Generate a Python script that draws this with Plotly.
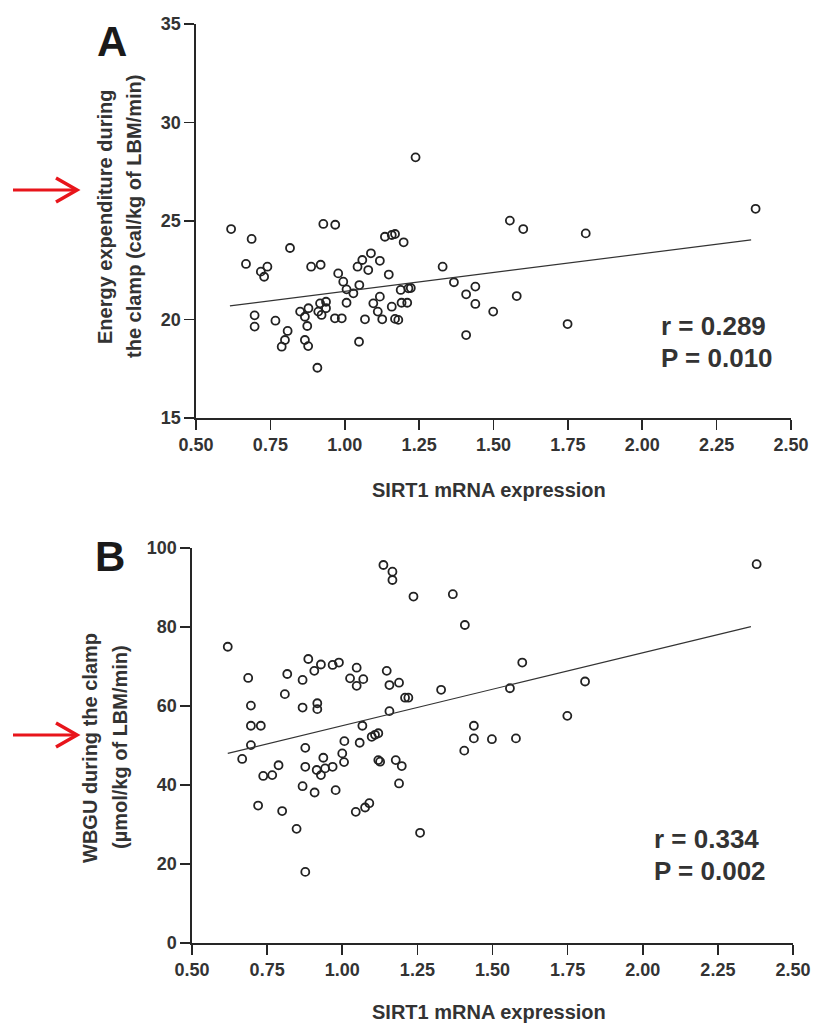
import plotly.graph_objects as go

# ---------------- Data ----------------
# Panel A: SIRT1 mRNA expression vs energy expenditure during the clamp
a_x = [0.618, 0.687, 0.668, 0.816, 0.928, 0.968, 0.718, 0.740, 0.729, 0.887,
       0.919, 0.697, 0.697, 0.767, 0.808, 0.799, 0.788, 0.866, 0.877, 0.908,
       0.850, 0.866, 0.878, 0.874, 0.911, 0.922, 0.917, 0.937, 0.937, 0.967,
       0.990, 0.978, 0.995, 1.006, 1.029, 1.049, 1.006, 1.068, 1.048, 1.043,
       1.059, 1.079, 1.088, 1.118, 1.096, 1.118, 1.111, 1.126, 1.148, 1.135,
       1.158, 1.169, 1.198, 1.158, 1.169, 1.180, 1.188, 1.191, 1.210, 1.214,
       1.222, 1.238, 1.329, 1.367, 1.408, 1.439, 1.439, 1.408, 1.499, 1.555,
       1.600, 1.578, 1.749, 1.810, 2.381]
a_y = [24.59, 24.09, 22.82, 23.63, 24.85, 24.81, 22.43, 22.68, 22.17, 22.68,
       22.78, 20.21, 19.64, 19.94, 19.42, 18.96, 18.62, 18.96, 18.65, 17.55,
       20.40, 20.14, 20.57, 19.67, 20.40, 20.23, 20.82, 20.90, 20.57, 20.06,
       20.06, 22.34, 21.92, 21.53, 21.33, 21.75, 20.85, 20.01, 18.87, 22.68,
       23.02, 22.51, 23.36, 22.98, 20.82, 21.16, 20.40, 20.01, 22.28, 24.20,
       24.29, 24.34, 23.92, 20.65, 20.03, 19.98, 21.50, 20.85, 20.85, 21.58,
       21.60, 28.23, 22.68, 21.89, 21.28, 21.67, 20.79, 19.21, 20.40, 25.02,
       24.59, 21.19, 19.77, 24.37, 25.62]
a_fit_x = [0.614, 2.366]
a_fit_y = [20.69, 24.04]
a_stats = ["r = 0.289", "P = 0.010"]

# Panel B: SIRT1 mRNA expression vs WBGU during the clamp
b_x = [0.619, 0.687, 0.696, 0.696, 0.729, 0.696, 0.667, 0.737, 0.767, 0.788,
       0.720, 0.800, 0.848, 0.877, 0.817, 0.809, 0.868, 0.887, 0.907, 0.929,
       0.968, 0.989, 0.868, 0.917, 0.917, 0.877, 0.877, 0.868, 0.908, 0.937,
       0.915, 0.929, 0.943, 0.968, 0.978, 1.000, 1.006, 1.007, 1.048, 1.026,
       1.048, 1.070, 1.058, 1.067, 1.045, 1.076, 1.090, 1.098, 1.109, 1.120,
       1.120, 1.126, 1.137, 1.167, 1.167, 1.148, 1.157, 1.189, 1.157, 1.178,
       1.198, 1.189, 1.209, 1.220, 1.237, 1.368, 1.408, 1.599, 1.808, 1.329,
       1.558, 1.749, 1.438, 1.438, 1.498, 1.578, 1.406, 1.259, 2.379]
b_y = [75.0, 67.1, 60.1, 55.0, 55.0, 50.1, 46.6, 42.3, 42.5, 45.0,
       34.8, 33.4, 28.9, 18.0, 68.1, 63.0, 66.6, 71.9, 68.9, 70.5,
       70.4, 71.0, 59.6, 60.7, 59.2, 49.4, 44.6, 39.7, 38.1, 46.9,
       43.8, 42.5, 44.2, 44.6, 38.7, 48.0, 45.8, 51.1, 69.7, 67.0,
       65.1, 66.8, 50.7, 55.0, 33.2, 34.3, 35.4, 52.2, 52.7, 53.1,
       46.3, 45.9, 95.7, 94.0, 91.9, 68.9, 65.3, 65.9, 58.7, 46.3,
       44.8, 40.4, 62.1, 62.1, 87.7, 88.3, 80.5, 71.0, 66.2, 64.1,
       64.5, 57.5, 55.0, 51.8, 51.6, 51.8, 48.7, 27.9, 95.9]
b_fit_x = [0.619, 2.360]
b_fit_y = [48.0, 80.1]
b_stats = ["r = 0.334", "P = 0.002"]

x_ticks = [0.50, 0.75, 1.00, 1.25, 1.50, 1.75, 2.00, 2.25, 2.50]
x_ticktext = ["0.50", "0.75", "1.00", "1.25", "1.50", "1.75", "2.00", "2.25", "2.50"]
a_yticks = [15, 20, 25, 30, 35]
b_yticks = [0, 20, 40, 60, 80, 100]

x_title = "SIRT1 mRNA expression"
a_ytitle = ["Energy expenditure during", "the clamp (cal/kg of LBM/min)"]
b_ytitle = ["WBGU during the clamp", "(µmol/kg of LBM/min)"]

# ---------------- Layout helpers ----------------
# Body margin is removed (post_script), so design coordinates are screen pixels.
W, H = 814, 1027
OFF = 0
def px(x):
    return (x - OFF) / W
def py(y):
    return 1 - (y - OFF) / H

FONT = "Liberation Sans, Arial, sans-serif"
TXT = "#333333"
AX = "#262626"
MK = "#222222"

fig = go.Figure()

marker = dict(symbol="circle-open", size=8, color=MK, line=dict(width=1.8, color=MK))
fig.add_trace(go.Scatter(x=a_x, y=a_y, mode="markers", marker=marker,
                         xaxis="x", yaxis="y", showlegend=False))
fig.add_trace(go.Scatter(x=a_fit_x, y=a_fit_y, mode="lines",
                         line=dict(color="#333333", width=1.2),
                         xaxis="x", yaxis="y", showlegend=False))
fig.add_trace(go.Scatter(x=b_x, y=b_y, mode="markers", marker=marker,
                         xaxis="x2", yaxis="y2", showlegend=False))
fig.add_trace(go.Scatter(x=b_fit_x, y=b_fit_y, mode="lines",
                         line=dict(color="#333333", width=1.2),
                         xaxis="x2", yaxis="y2", showlegend=False))

tickfont = dict(family=FONT, size=18, color=TXT, weight="bold")
axcommon = dict(showline=True, linecolor=AX, linewidth=1.6, ticks="outside",
                ticklen=10, tickwidth=1.6, tickcolor=AX, showgrid=False,
                zeroline=False, tickfont=tickfont, fixedrange=True,
                automargin=False)

fig.update_layout(
    width=W, height=H,
    margin=dict(l=0, r=0, t=0, b=0, autoexpand=False),
    paper_bgcolor="white", plot_bgcolor="white",
    xaxis=dict(domain=[px(196), px(791)], range=[0.5, 2.5], anchor="y",
               tickvals=x_ticks, ticktext=x_ticktext, **axcommon),
    yaxis=dict(domain=[py(418), py(24)], range=[15, 35], anchor="x",
               tickvals=a_yticks, **axcommon),
    xaxis2=dict(domain=[px(192), px(793)], range=[0.5, 2.5], anchor="y2",
                tickvals=x_ticks, ticktext=x_ticktext, **axcommon),
    yaxis2=dict(domain=[py(943), py(548)], range=[0, 100], anchor="x2",
                tickvals=b_yticks, **axcommon),
)

ann = []
titlefont = dict(family=FONT, size=20, color=TXT, weight="bold")
statfont = dict(family=FONT, size=26, color=TXT, weight="bold")
letterfont = dict(family=FONT, size=42, color="#1a1a1a", weight="bold")

def add_text(x, y, text, font, angle=0, xanchor="center"):
    ann.append(dict(x=px(x), y=py(y), xref="paper", yref="paper", text=text,
                    showarrow=False, font=font, textangle=angle,
                    xanchor=xanchor, yanchor="middle"))

# x-axis titles
add_text(489, 490, x_title, titlefont)
add_text(489, 1012, x_title, titlefont)
# y-axis titles (two lines, rotated)
add_text(105, 217, a_ytitle[0], titlefont, -90)
add_text(134, 217, a_ytitle[1], titlefont, -90)
add_text(90, 748, b_ytitle[0], titlefont, -90)
add_text(120, 747, b_ytitle[1], titlefont, -90)
# stats
add_text(659, 326, a_stats[0], statfont, xanchor="left")
add_text(659, 358, a_stats[1], statfont, xanchor="left")
add_text(652, 839, b_stats[0], statfont, xanchor="left")
add_text(652, 871, b_stats[1], statfont, xanchor="left")
# panel letters
add_text(112, 42, "A", letterfont)
add_text(110, 556, "B", letterfont)
fig.update_layout(annotations=ann)

# red arrows
RED = "#e8151b"
shapes = []
for yy in (190, 735):
    shapes.append(dict(type="line", xref="paper", yref="paper",
                       x0=px(13), y0=py(yy), x1=px(76), y1=py(yy),
                       line=dict(color=RED, width=3)))
    shapes.append(dict(type="path", xref="paper", yref="paper",
                       path=f"M {px(56)},{py(yy-12)} L {px(77)},{py(yy)} L {px(56)},{py(yy+12)}",
                       line=dict(color=RED, width=3.5)))
fig.update_layout(shapes=shapes)

fig.write_html("out.html",
               config={"displayModeBar": False, "staticPlot": True},
               post_script="document.body.style.margin='0';document.body.style.overflow='hidden';")
